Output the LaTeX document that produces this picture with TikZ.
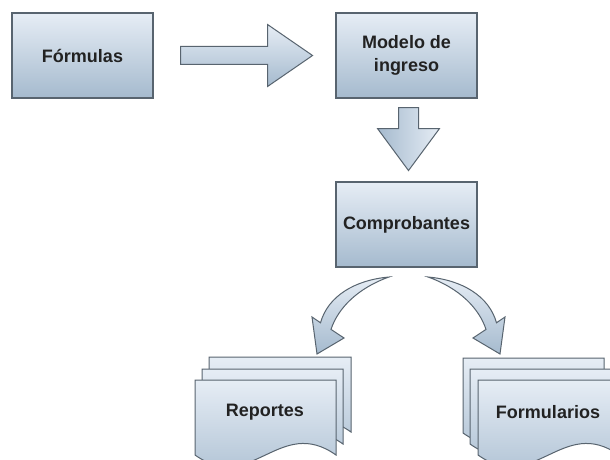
\documentclass[tikz,border=0pt]{standalone}
\usepackage{fontspec}
\setmainfont{Liberation Sans}
\usetikzlibrary{calc}
\definecolor{bordc}{HTML}{58646F}
\definecolor{topc}{HTML}{E6EDF5}
\definecolor{botc}{HTML}{A5BACE}
\definecolor{txtc}{HTML}{222222}
\tikzset{
  box/.style={draw=bordc, line width=1.1pt, top color=topc, bottom color=botc,
    minimum width=141pt, minimum height=85pt, inner sep=0pt, align=center,
    font=\bfseries\fontsize{18}{23}\selectfont, text=txtc},
  blockarrow/.style={draw=bordc, line width=1pt, line join=miter},
  page/.style={draw=bordc, line width=1pt, top color=topc, bottom color=botc},
  doclabel/.style={font=\bfseries\fontsize{18}{23}\selectfont, text=txtc, inner sep=0pt}
}
\newcommand{\docpg}[3]{%
  \draw[page] (#1,#2) -- (#3,#2) -- (#3,#2+75)
    .. controls ({#3-0.4*(#3-#1)},#2+35) and ({#1+0.4*(#3-#1)},#2+115) .. (#1,#2+75) -- cycle;}
\begin{document}
\begin{tikzpicture}[x=1pt,y=-1pt]
\useasboundingbox (0,0) rectangle (610,460);
\clip (0,0) rectangle (610,460);
\fill[white] (0,0) rectangle (610,460);

% boxes
\node[box] (form) at (82.5,55.5) {Fórmulas};
\node[box] (modelo) at (406.5,55.5) {Modelo de\\ingreso};
\node[box] (comp) at (406.5,224.5) {Comprobantes};

% right block arrow
\coordinate (ra) at ($(form.east)+(27,0)$);
\draw[blockarrow, top color=topc, bottom color=botc]
  (ra) ++(0,-9) -- ++(87,0) -- ++(0,-22) -- ++(45,31) -- ++(-45,31) -- ++(0,-22) -- ++(-87,0) -- cycle;

% down block arrow
\coordinate (da) at ($(modelo.south)+(2,9)$);
\draw[blockarrow, left color=botc, right color=topc]
  (da) ++(-10,0) -- ++(20,0) -- ++(0,21) -- ++(21,0) -- ++(-31,42) -- ++(-31,-42) -- ++(21,0) -- cycle;

% curved arrows
\draw[blockarrow, top color=topc, bottom color=botc]
  (389,277) .. controls (355,280) and (328,296) .. (320.5,322.75)
  -- (312,317) -- (317,354) -- (344,338) -- (331,329.4)
  .. controls (338,308) and (358,288) .. (389,277) -- cycle;
\draw[blockarrow, top color=topc, bottom color=botc]
  (428,277) .. controls (462,280) and (489,296) .. (496.5,322.75)
  -- (505,317) -- (500,354) -- (473,338) -- (486,329.4)
  .. controls (479,308) and (459,288) .. (428,277) -- cycle;

% document stacks
\docpg{209}{357}{351}
\docpg{202}{369}{343}
\docpg{195}{380}{336}
\node[doclabel] (rep) at (265,412) {Reportes};

\docpg{463}{358}{604}
\docpg{470}{369}{611}
\docpg{478}{380}{619}
\node[doclabel] (formu) at (548,412) {Formularios};
\end{tikzpicture}
\end{document}
